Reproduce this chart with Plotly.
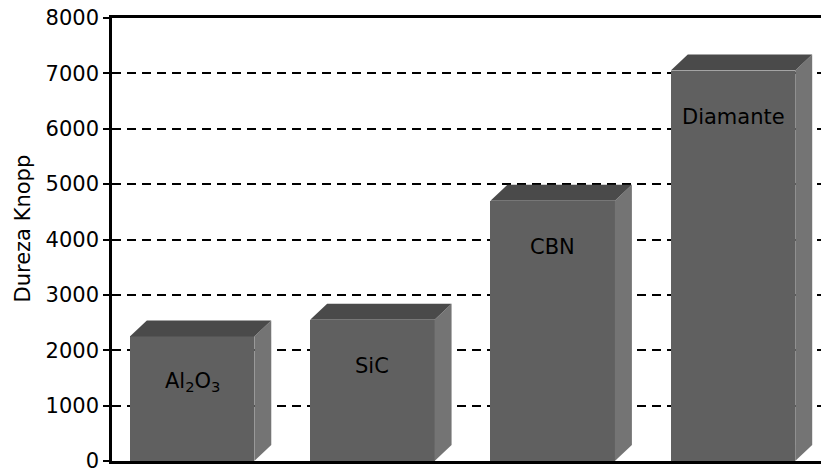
import plotly.graph_objects as go

# Knoop hardness of common abrasive materials
materials = ["Al<sub>2</sub>O<sub>3</sub>", "SiC", "CBN", "Diamante"]
hardness = [2250, 2550, 4700, 7050]
y_ticks = [0, 1000, 2000, 3000, 4000, 5000, 6000, 7000, 8000]
y_title = "Dureza Knopp"

# layout geometry (pixels)
W, H = 821, 471
M_L, M_R, M_T, M_B = 112, 0, 18, 10
plot_w = W - M_L - M_R
plot_h = H - M_T - M_B

x_range = [-0.444, 3.488]
y_range = [0, 8000]
bar_w = 0.69

# pseudo-3D depth of the boxes, in pixels, converted to data units
depth_px_x, depth_px_y = 17, 16
dx = depth_px_x * (x_range[1] - x_range[0]) / plot_w
dy = depth_px_y * (y_range[1] - y_range[0]) / plot_h

FRONT = "rgb(96,96,96)"
TOP = "rgb(74,74,74)"
SIDE = "rgb(116,116,116)"

xs = list(range(len(materials)))

fig = go.Figure()

for x, v in zip(xs, hardness):
    x0, x1 = x - bar_w / 2, x + bar_w / 2
    # right side face
    fig.add_trace(go.Scatter(
        x=[x1, x1 + dx, x1 + dx, x1, x1],
        y=[0, dy, v + dy, v, 0],
        fill="toself", fillcolor=SIDE, mode="lines",
        line=dict(width=0, color=SIDE), hoverinfo="skip", showlegend=False))
    # top face
    fig.add_trace(go.Scatter(
        x=[x0, x1, x1 + dx, x0 + dx, x0],
        y=[v, v, v + dy, v + dy, v],
        fill="toself", fillcolor=TOP, mode="lines",
        line=dict(width=0, color=TOP), hoverinfo="skip", showlegend=False))

# front faces
fig.add_trace(go.Bar(
    x=xs, y=hardness, width=bar_w,
    marker=dict(color=FRONT, line=dict(width=0)),
    hoverinfo="skip", showlegend=False))

for x, v, name in zip(xs, hardness, materials):
    fig.add_annotation(
        x=x, y=v, text=name, showarrow=False, yshift=-46,
        font=dict(family="DejaVu Sans", size=21, color="#000000"))

# vertical axis title, placed slightly above the plot's mid-height
fig.add_annotation(
    xref="paper", yref="paper", x=(22.5 - M_L) / plot_w,
    y=(H - M_B - 229) / plot_h, text=y_title, textangle=-90,
    showarrow=False, xanchor="center", yanchor="middle",
    font=dict(family="DejaVu Sans", size=21, color="#000000"))

fig.update_layout(
    width=W, height=H,
    margin=dict(l=M_L, r=M_R, t=M_T, b=M_B, pad=0),
    plot_bgcolor="white", paper_bgcolor="white",
    bargap=0,
    font=dict(family="DejaVu Sans", color="#000000"),
)

fig.update_xaxes(
    range=x_range, showticklabels=False, ticks="", showgrid=False,
    zeroline=False, showline=True, linecolor="black", linewidth=2.5,
    mirror=True, automargin=False)

fig.update_yaxes(
    range=y_range, tickvals=y_ticks, ticks="outside", ticklen=6,
    tickwidth=2, tickcolor="black", tickfont=dict(size=21),
    ticklabeloverflow="allow",
    showgrid=True, gridcolor="black", gridwidth=2, griddash="9px,6px",
    zeroline=False, showline=True, linecolor="black", linewidth=2.5,
    automargin=False)

fig.write_html("out.html")
